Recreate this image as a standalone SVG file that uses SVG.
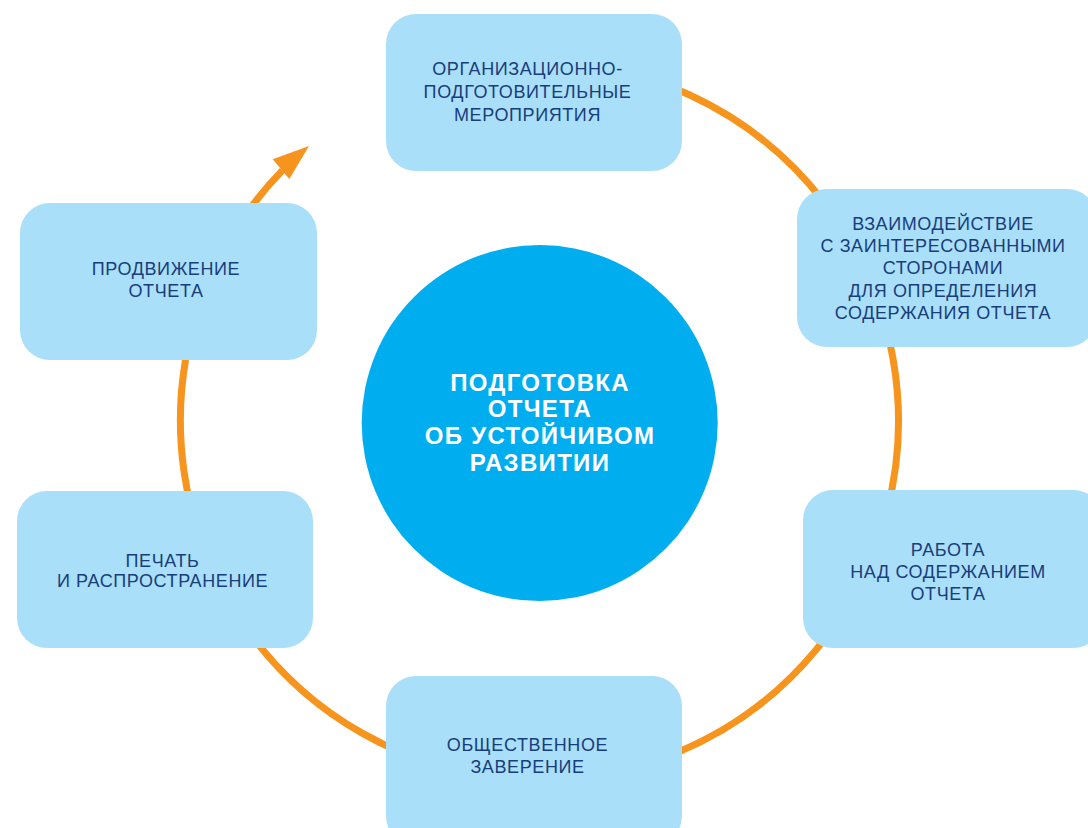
<svg xmlns="http://www.w3.org/2000/svg" width="1088" height="828" viewBox="0 0 1088 828">
<style>
.box{fill:#A9DFF9}
.lbl{font-family:"Liberation Sans",Arial,sans-serif;font-size:18px;fill:#193D7C;text-anchor:middle;letter-spacing:0.6px}
.ctr{font-family:"Liberation Sans",Arial,sans-serif;font-size:24px;font-weight:bold;fill:#FFFFFF;text-anchor:middle;letter-spacing:1.3px}
.ring{fill:none;stroke:#F7941D;stroke-width:7}
</style>
<rect width="1088" height="828" fill="#FFFFFF"/>
<g id="connectors">
<path class="ring" d="M 539.5 62 A 359 359 0 1 1 282.4 170.4"/>
<polygon points="309,146 272.7,159.3 289.3,179" fill="#F7941D"/>
</g>
<g id="center">
<circle cx="539.7" cy="423" r="178" fill="#00AEEF"/>
<text class="ctr" x="540" y="391">ПОДГОТОВКА</text>
<text class="ctr" x="540" y="417">ОТЧЕТА</text>
<text class="ctr" x="540" y="444">ОБ УСТОЙЧИВОМ</text>
<text class="ctr" x="540" y="471">РАЗВИТИИ</text>
</g>
<g id="node-top">
<rect class="box" x="386" y="14" width="296" height="157" rx="30"/>
<text class="lbl" x="527.5" y="75">ОРГАНИЗАЦИОННО-</text>
<text class="lbl" x="527.5" y="98">ПОДГОТОВИТЕЛЬНЫЕ</text>
<text class="lbl" x="527.5" y="121">МЕРОПРИЯТИЯ</text>
</g>
<g id="node-right-upper">
<rect class="box" x="797" y="189" width="300" height="158" rx="30"/>
<text class="lbl" x="943" y="230">ВЗАИМОДЕЙСТВИЕ</text>
<text class="lbl" x="943" y="252">С ЗАИНТЕРЕСОВАННЫМИ</text>
<text class="lbl" x="943" y="274">СТОРОНАМИ</text>
<text class="lbl" x="943" y="297">ДЛЯ ОПРЕДЕЛЕНИЯ</text>
<text class="lbl" x="943" y="319">СОДЕРЖАНИЯ ОТЧЕТА</text>
</g>
<g id="node-right-lower">
<rect class="box" x="803" y="490" width="300" height="158" rx="30"/>
<text class="lbl" x="948" y="556">РАБОТА</text>
<text class="lbl" x="948" y="578">НАД СОДЕРЖАНИЕМ</text>
<text class="lbl" x="948" y="600">ОТЧЕТА</text>
</g>
<g id="node-bottom">
<rect class="box" x="386" y="676" width="296" height="170" rx="30"/>
<text class="lbl" x="527.5" y="751">ОБЩЕСТВЕННОЕ</text>
<text class="lbl" x="527.5" y="773">ЗАВЕРЕНИЕ</text>
</g>
<g id="node-left-lower">
<rect class="box" x="17" y="491" width="296" height="157" rx="30"/>
<text class="lbl" x="162.5" y="567">ПЕЧАТЬ</text>
<text class="lbl" x="162.5" y="587">И РАСПРОСТРАНЕНИЕ</text>
</g>
<g id="node-left-upper">
<rect class="box" x="20" y="203" width="297" height="157" rx="30"/>
<text class="lbl" x="166" y="275">ПРОДВИЖЕНИЕ</text>
<text class="lbl" x="166" y="297">ОТЧЕТА</text>
</g>
</svg>
